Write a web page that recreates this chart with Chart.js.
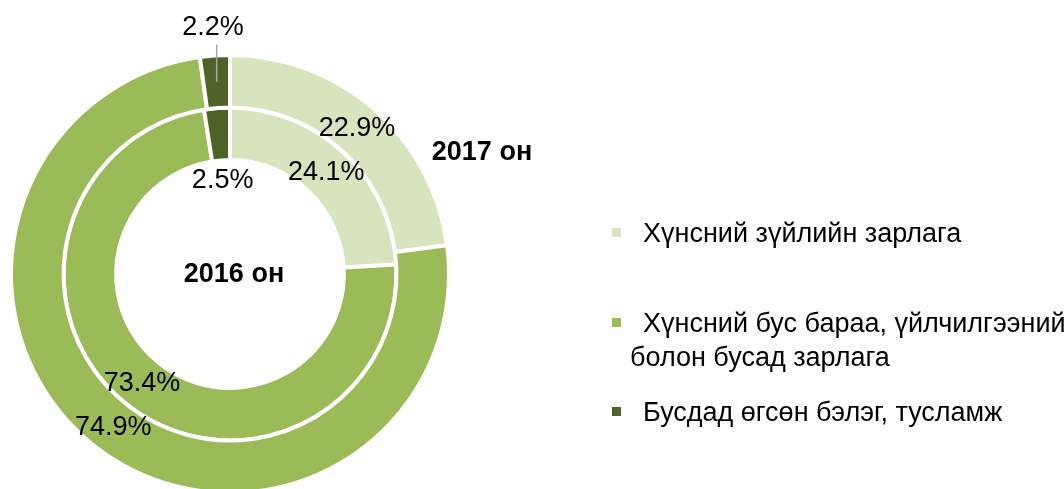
<!DOCTYPE html>
<html lang="mn">
<head>
<meta charset="utf-8"/>
<title>Өрхийн зарлагын бүтэц</title>
<script src="https://cdn.jsdelivr.net/npm/chart.js"></script>
<style>
  html, body {
    margin: 0;
    padding: 0;
    width: 1064px;
    height: 489px;
    overflow: hidden;
    background: #fff;
    font-family: "Liberation Sans", Arial, sans-serif;
  }
  .tojoo {
    position: absolute;
    left: 0;
    top: 0;
    width: 1064px;
    height: 500px;
  }
  .tailbar {
    position: absolute;
    left: 612px;
    top: 216px;
    font-size: 27px;
    color: #000;
  }
  .mor {
    position: absolute;
    white-space: nowrap;
    line-height: 34px;
  }
  .mor i {
    display: inline-block;
    width: 9px;
    height: 9px;
    margin-right: 22px;
    vertical-align: middle;
    position: relative;
    top: -2px;
  }
  .mor .dood {
    display: block;
    margin-left: 18px;
  }
</style>
</head>
<body>
<div class="tojoo"><canvas id="zarlagaGrafik"></canvas></div>
<div class="tailbar" id="tailbar"></div>
<script>
  // Ангилал, өнгө
  const angilal = [
    'Хүнсний зүйлийн зарлага',
    'Хүнсний бус бараа, үйлчилгээний болон бусад зарлага',
    'Бусдад өгсөн бэлэг, тусламж'
  ];
  const angilalMor = [
    ['Хүнсний зүйлийн зарлага'],
    ['Хүнсний бус бараа, үйлчилгээний', 'болон бусад зарлага'],
    ['Бусдад өгсөн бэлэг, тусламж']
  ];
  const ongo = ['#D7E4BD', '#9BBB59', '#4F6228'];

  // Хувь (%) - гадна 2017, дотор 2016
  const on2017 = [22.9, 74.9, 2.2];
  const on2016 = [24.1, 73.4, 2.5];
  const onNer = ['2017 он', '2016 он'];

  // шошгын байрлал: 'dund' - цагирагт, 'gadna' - гадна, 'dotor' - нүхэнд
  const shoshgoBair = [
    ['dund', 'dund', 'gadna'],
    ['dund', 'dund', 'dotor']
  ];

  // Тайлбар
  const tailbar = document.getElementById('tailbar');
  const morY = [0, 90, 179];
  angilalMor.forEach((mor, i) => {
    const d = document.createElement('div');
    d.className = 'mor';
    d.style.top = morY[i] + 'px';
    d.innerHTML = '<i style="background:' + ongo[i] + '"></i>' + mor[0] +
      (mor[1] ? '<span class="dood">' + mor[1] + '</span>' : '');
    tailbar.appendChild(d);
  });

  const shoshgo = {
    id: 'shoshgo',
    afterDatasetsDraw(chart) {
      const ctx = chart.ctx;
      ctx.save();
      ctx.font = '27px "Liberation Sans", Arial, sans-serif';
      ctx.fillStyle = '#000';
      ctx.textAlign = 'center';
      ctx.textBaseline = 'middle';
      let cx = 0, cy = 0;
      chart.data.datasets.forEach((ds, di) => {
        const meta = chart.getDatasetMeta(di);
        meta.data.forEach((arc, i) => {
          const p = arc.getProps(['x', 'y', 'startAngle', 'endAngle', 'innerRadius', 'outerRadius'], true);
          cx = p.x; cy = p.y;
          const mid = (p.startAngle + p.endAngle) / 2;
          const rMid = (p.innerRadius + p.outerRadius) / 2;
          let r = rMid;
          const bair = shoshgoBair[di][i];
          if (bair === 'gadna') r = p.outerRadius + 28;
          if (bair === 'dotor') r = p.innerRadius - 20;
          const tx = p.x + Math.cos(mid) * r;
          const ty = p.y + Math.sin(mid) * r;
          if (bair === 'gadna') {
            const lx = p.x + Math.cos(mid) * rMid;
            ctx.strokeStyle = '#A6A6A6';
            ctx.lineWidth = 1.5;
            ctx.beginPath();
            ctx.moveTo(lx, p.y + Math.sin(mid) * rMid);
            ctx.lineTo(lx, p.y + Math.sin(mid) * (p.outerRadius + 11));
            ctx.stroke();
          }
          ctx.fillText(ds.data[i].toFixed(1) + '%', tx, ty);
        });
      });
      ctx.font = 'bold 27px "Liberation Sans", Arial, sans-serif';
      ctx.fillText(onNer[1], cx + 4, cy + 1);
      ctx.fillText(onNer[0], cx + 252, cy - 121);
      ctx.restore();
    }
  };

  new Chart(document.getElementById('zarlagaGrafik'), {
    type: 'doughnut',
    data: {
      labels: angilal,
      datasets: [
        { label: onNer[0], data: on2017, backgroundColor: ongo, borderColor: '#fff', borderWidth: 4 },
        { label: onNer[1], data: on2016, backgroundColor: ongo, borderColor: '#fff', borderWidth: 4 }
      ]
    },
    options: {
      responsive: true,
      maintainAspectRatio: false,
      animation: false,
      cutout: '52%',
      layout: { padding: { left: 9, top: 53, right: 613, bottom: 5 } },
      plugins: {
        legend: { display: false },
        tooltip: { enabled: false }
      }
    },
    plugins: [shoshgo]
  });
</script>
</body>
</html>
